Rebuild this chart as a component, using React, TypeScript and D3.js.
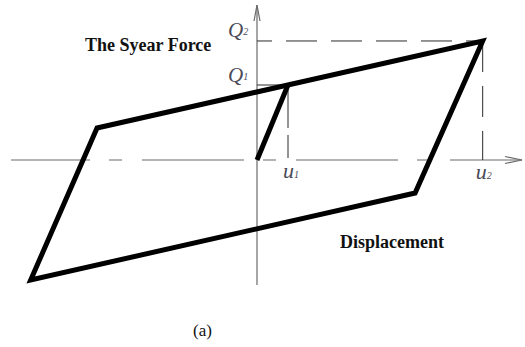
import React from "react";
import * as d3 from "d3";

const W = 525;
const H = 347;

// Hysteresis loop corners: displacement in units of u1, force in units of Q1
const loopU = [7.28, 5.1, -7.3, -5.16];
const loopQ = [1.587, -0.44, -1.6, 0.427];
// Initial loading branch up to the yield point (u1, Q1)
const loadU = [0, 1];
const loadQ = [0, 1];
// Marked levels on the axes
const levelU = [1, 7.28];
const levelQ = [1, 1.587];
const levelNames = ["1", "2"];
const forceTitle = "The Syear Force";
const dispTitle = "Displacement";
const caption = "(a)";

export default function App() {
  const x = d3.scaleLinear().domain([0, 1]).range([257, 288]);
  const y = d3.scaleLinear().domain([0, 1]).range([160, 85]);

  const line = d3
    .line<[number, number]>()
    .x((d) => x(d[0]))
    .y((d) => y(d[1]));

  const loopPts: [number, number][] = loopU.map((u, i) => [u, loopQ[i]]);
  const loopPath = line(loopPts) + "Z";
  const loadPath = line(loadU.map((u, i) => [u, loadQ[i]] as [number, number]));

  const x0 = x(0);
  const y0 = y(0);
  const axisLeft = 11;
  const axisRight = 522;
  const axisTop = 5;
  const axisBottom = 285;

  const axisColor = "#6a6a6a";
  const guideColor = "#2a2a2a";
  const labelColor = "#4a4a58";

  const [uA, uB] = levelU;
  const [qA, qB] = levelQ;

  return (
    <div style={{ position: "fixed", left: 0, top: 0 }}>
      <svg width={W} height={H} style={{ display: "block", background: "#fff" }}>
        {/* horizontal axis: center-line dash pattern with arrow */}
        <line
          x1={axisLeft}
          x2={axisRight}
          y1={y0}
          y2={y0}
          stroke={axisColor}
          strokeWidth={1.2}
          strokeDasharray="102 19 13 20"
          strokeDashoffset={23}
        />
        <path
          d={`M${axisRight - 17},${y0 - 3.5} L${axisRight},${y0} L${axisRight - 17},${y0 + 3.5}`}
          fill="none"
          stroke={axisColor}
          strokeWidth={1.2}
        />
        {/* vertical axis with arrow */}
        <line x1={x0} x2={x0} y1={axisTop} y2={axisBottom} stroke={axisColor} strokeWidth={1.2} />
        <path
          d={`M${x0 - 3},${axisTop + 16} L${x0},${axisTop} L${x0 + 3},${axisTop + 16}`}
          fill="none"
          stroke={axisColor}
          strokeWidth={1.2}
        />

        {/* guide lines to Q2 / u2 */}
        <line x1={x0} x2={x(uB)} y1={y(qB)} y2={y(qB)} stroke={guideColor} strokeWidth={1} strokeDasharray="31 14" strokeDashoffset={16} />
        <line x1={x(uB)} x2={x(uB)} y1={y(qB)} y2={y0} stroke={guideColor} strokeWidth={1} strokeDasharray="31 14" />
        {/* guide lines to Q1 / u1 */}
        <line x1={x0} x2={x(uA)} y1={y(qA)} y2={y(qA)} stroke={guideColor} strokeWidth={1} />
        <line x1={x(uA)} x2={x(uA)} y1={y(qA)} y2={y0 - 2} stroke={guideColor} strokeWidth={1} strokeDasharray="43 7" />

        {/* hysteresis loop */}
        <path d={loopPath} fill="none" stroke="#000" strokeWidth={5} strokeLinejoin="miter" />
        <path d={loadPath ?? ""} fill="none" stroke="#000" strokeWidth={5} />

        {/* level labels */}
        <g fontFamily="'Liberation Serif', serif" fontStyle="italic" fill={labelColor}>
          <text x={x0 - 29} y={y(qB) - 4} fontSize={21}>
            Q<tspan fontSize={10} dy={-2}>{levelNames[1]}</tspan>
          </text>
          <text x={x0 - 29} y={y(qA) - 3} fontSize={21}>
            Q<tspan fontSize={10} dy={-2}>{levelNames[0]}</tspan>
          </text>
          <text x={x(uA) - 5} y={y0 + 18} fontSize={22}>
            u<tspan fontSize={10} dy={0}>{levelNames[0]}</tspan>
          </text>
          <text x={x(uB) - 7} y={y0 + 19} fontSize={22}>
            u<tspan fontSize={10} dy={0}>{levelNames[1]}</tspan>
          </text>
        </g>

        {/* axis titles */}
        <g fontFamily="'Liberation Serif', serif" fontWeight="bold" fill="#111">
          <text x={85} y={51} fontSize={18}>{forceTitle}</text>
          <text x={340} y={248} fontSize={18}>{dispTitle}</text>
        </g>
        <text x={193} y={336} fontFamily="'Liberation Serif', serif" fontSize={17} fill="#111">
          {caption}
        </text>
      </svg>
    </div>
  );
}
